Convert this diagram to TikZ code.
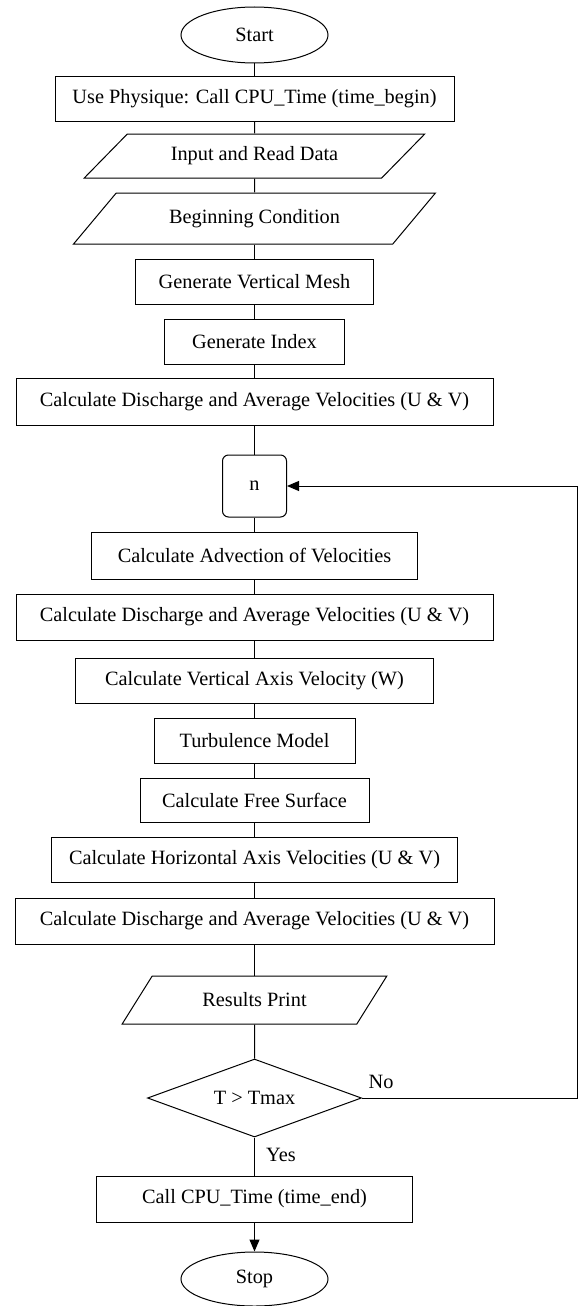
\documentclass[tikz,border=0pt]{standalone}
\usepackage{fontspec}
\setmainfont{Liberation Serif}
\usetikzlibrary{shapes.geometric,arrows.meta}

\begin{document}
\begin{tikzpicture}[x=1pt,y=-1pt]
   \tikzstyle{every node}=[font=\fontsize{20.3}{24}\selectfont, line width=1pt, inner sep=0pt]
   \tikzstyle{terminal}=[draw, ellipse, minimum width=147pt, minimum height=56pt]
   \tikzstyle{process}=[draw, rectangle, minimum height=45pt]
   \tikzstyle{io}=[draw, trapezium, trapezium stretches=true]
   \tikzstyle{decision}=[draw, diamond, aspect=2.7, minimum width=214pt, minimum height=78pt]
   \tikzstyle{joinbox}=[draw, rounded corners=6pt, minimum width=64pt, minimum height=62pt]
   \tikzstyle{line}=[draw, line width=1pt]
   \tikzstyle{arrow}=[line, -{Triangle[length=12pt,width=10pt]}]

\useasboundingbox (0,0) rectangle (578,1306);

\node[terminal] (start) at (254.5,35) {Start};
\node[process, minimum width=399pt] (cpubegin) at (254.5,98.5) {Use Physique: Call CPU\_Time (time\_begin)};
\node[io, trapezium left angle=33, trapezium right angle=147, minimum width=341pt, minimum height=44pt] (input) at (254.5,156) {Input and Read Data};
\node[io, trapezium left angle=35, trapezium right angle=145, minimum width=362pt, minimum height=51pt] (begcond) at (254.5,218.5) {Beginning Condition};
\node[process, minimum width=238pt] (mesh) at (254.5,281.5) {Generate Vertical Mesh};
\node[process, minimum width=180pt] (index) at (254.5,341.5) {Generate Index};
\node[process, minimum width=477pt, minimum height=47pt] (discharge1) at (254.5,401.5) {Calculate Discharge and Average Velocities (U \& V)};
\node[joinbox] (n) at (254.5,486) {n};
\node[process, minimum width=326pt, minimum height=47pt] (advection) at (254.5,555.5) {Calculate Advection of Velocities};
\node[process, minimum width=477pt, minimum height=46pt] (discharge2) at (254.5,617) {Calculate Discharge and Average Velocities (U \& V)};
\node[process, minimum width=358pt] (vertvel) at (254.5,680.5) {Calculate Vertical Axis Velocity (W)};
\node[process, minimum width=201pt] (turb) at (254.5,740.5) {Turbulence Model};
\node[process, minimum width=229pt, minimum height=44pt] (surface) at (254.5,800) {Calculate Free Surface};
\node[process, minimum width=406pt] (horvel) at (254.5,859.5) {Calculate Horizontal Axis Velocities (U \& V)};
\node[process, minimum width=479pt, minimum height=46pt] (discharge3) at (254.5,921) {Calculate Discharge and Average Velocities (U \& V)};
\node[io, trapezium left angle=43, trapezium right angle=137, minimum width=265pt, minimum height=48pt] (results) at (254.5,1000) {Results Print};
\node[decision] (tmax) at (254.5,1098) {T > Tmax};
\node[process, minimum width=316pt, minimum height=46pt] (cpuend) at (254.5,1199) {Call CPU\_Time (time\_end)};
\node[terminal, minimum height=54pt] (stop) at (254.5,1279) {Stop};

\coordinate (loop) at (577,1098);

\foreach \a/\b in {start/cpubegin, cpubegin/input, input/begcond, begcond/mesh, mesh/index,
    index/discharge1, discharge1/n, n/advection, advection/discharge2, discharge2/vertvel,
    vertvel/turb, turb/surface, surface/horvel, horvel/discharge3, discharge3/results,
    results/tmax, tmax/cpuend}
    \draw[line] (\a) -- (\b);
\draw[arrow] (cpuend) -- (stop);

% loop back while T <= Tmax
\draw[arrow] (tmax.east) -- (loop) |- (n.east);
\node (no) at (381,1082) {No};
\node (yes) at (281,1155) {Yes};

\end{tikzpicture}
\end{document}
